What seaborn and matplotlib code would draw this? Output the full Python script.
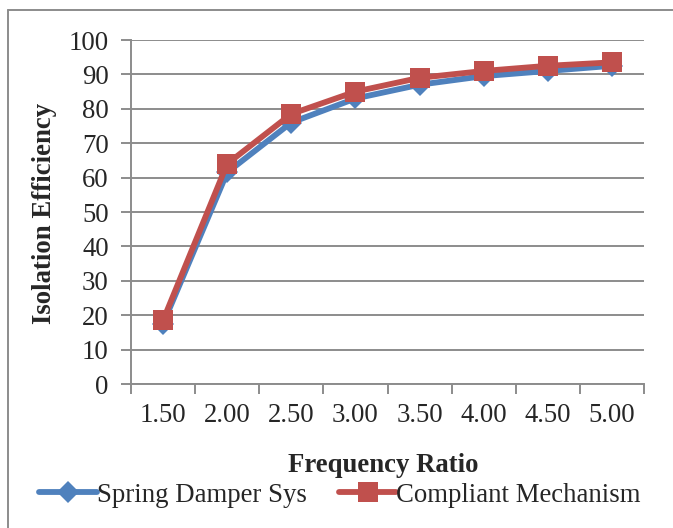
import matplotlib
matplotlib.use("Agg")
import matplotlib.pyplot as plt
import seaborn as sns
import pandas as pd
from matplotlib.lines import Line2D

categories = ["1.50", "2.00", "2.50", "3.00", "3.50", "4.00", "4.50", "5.00"]
spring_damper = [17.5, 61.5, 76.0, 83.0, 87.0, 89.5, 91.0, 92.5]
compliant = [18.5, 64.0, 78.5, 85.0, 89.0, 91.0, 92.5, 93.5]
series_names = ["Spring Damper Sys", "Compliant Mechanism"]
y_ticks = list(range(0, 101, 10))

sns.set_theme(style="white")
plt.rcParams["font.family"] = ["Liberation Serif", "DejaVu Serif"]

df = pd.DataFrame({
    "Frequency Ratio": categories * 2,
    "Isolation Efficiency": spring_damper + compliant,
    "Series": [series_names[0]] * len(categories) + [series_names[1]] * len(categories),
})

blue = "#4F81BD"
red = "#C0504D"
grid_c = "#8C8C8C"
FS = 19.3

fig = plt.figure(figsize=(6.73, 5.28), dpi=100)
ax = fig.add_axes([131 / 673, 1 - 384 / 528, (644 - 131) / 673, (384 - 40) / 528])

sns.lineplot(data=df, x="Frequency Ratio", y="Isolation Efficiency", hue="Series",
             style="Series", markers={series_names[0]: "D", series_names[1]: "s"},
             dashes=False, palette={series_names[0]: blue, series_names[1]: red},
             linewidth=4.2, markersize=11, markeredgewidth=0, ax=ax, legend=False,
             sort=False)
lines = ax.get_lines()
lines[0].set_markersize(11.5)
lines[1].set_markersize(14.5)

ax.set_xlim(-0.5, len(categories) - 0.5)
ax.set_ylim(0, 100)
ax.set_yticks(y_ticks)
ax.set_yticklabels([str(t) for t in y_ticks])
ax.yaxis.grid(True, color=grid_c, linewidth=1.4)
ax.xaxis.grid(False)
ax.set_axisbelow(True)
for s in ["top", "right"]:
    ax.spines[s].set_visible(False)
for s in ["left", "bottom"]:
    ax.spines[s].set_color(grid_c)
    ax.spines[s].set_linewidth(1.4)

ax.tick_params(axis="y", which="major", length=7, width=1.4, color=grid_c,
               labelsize=FS, pad=9, left=True, direction="out")
ax.tick_params(axis="x", which="major", length=0, labelsize=FS, pad=14)
ax.set_xticks(range(len(categories)))
ax.set_xticklabels(categories)
ax.set_xticks([i - 0.5 for i in range(len(categories) + 1)], minor=True)
ax.tick_params(axis="x", which="minor", length=7, width=1.4, color=grid_c,
               bottom=True, direction="out")

ax.set_xlabel("")
ax.set_ylabel("")
fig.text(383 / 673, 1 - 466 / 528, "Frequency Ratio", fontsize=FS, fontweight="bold",
         ha="center", va="center")
fig.text(45 / 673, 1 - 213 / 528, "Isolation Efficiency", fontsize=FS, fontweight="bold",
         ha="center", va="center", rotation=90)

handles = [
    Line2D([], [], color=blue, marker="D", linewidth=4.2, markersize=11.5, markeredgewidth=0),
    Line2D([], [], color=red, marker="s", linewidth=4.2, markersize=14.5, markeredgewidth=0),
]
fig.legend(handles, series_names, loc="center", bbox_to_anchor=(340 / 673, 1 - 495 / 528),
           ncol=2, frameon=False, fontsize=FS, handlelength=2.15, handletextpad=0.0,
           columnspacing=1.2, borderaxespad=0, borderpad=0)

# outer chart frame (left and top visible)
fig.add_artist(Line2D([8 / 673, 8 / 673], [0, 1 - 10 / 528], transform=fig.transFigure,
                      color=grid_c, linewidth=1.4))
fig.add_artist(Line2D([8 / 673, 1], [1 - 10 / 528, 1 - 10 / 528], transform=fig.transFigure,
                      color=grid_c, linewidth=1.4))

fig.savefig("out.png", dpi=100)
